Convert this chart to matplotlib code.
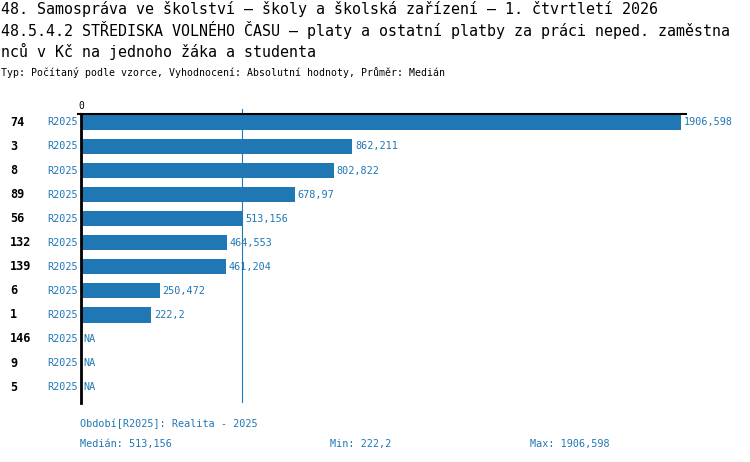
import numpy as np
import matplotlib
matplotlib.use("Agg")
import matplotlib.pyplot as plt

# data
categories = ["74", "3", "8", "89", "56", "132", "139", "6", "1", "146", "9", "5"]
period = "R2025"
values = [1906.598, 862.211, 802.822, 678.97, 513.156, 464.553, 461.204,
          250.472, 222.2, np.nan, np.nan, np.nan]
median_val = 513.156
min_val = 222.2
max_val = 1906.598

title_lines = [
    "48. Samospráva ve školství – školy a školská zařízení – 1. čtvrtletí 2026",
    "48.5.4.2 STŘEDISKA VOLNÉHO ČASU – platy a ostatní platby za práci neped. zaměstna",
    "nců v Kč na jednoho žáka a studenta",
]
subtitle = "Typ: Počítaný podle vzorce, Vyhodnocení: Absolutní hodnoty, Průměr: Medián"
legend_text = "Období[R2025]: Realita - 2025"

BLUE = "#1f77b4"
MONO = "DejaVu Sans Mono"
W, H = 750, 462


def fmt(v):
    s = f"{v:.3f}".rstrip("0").rstrip(".")
    return s.replace(".", ",")


fig = plt.figure(figsize=(7.5, 4.62), dpi=100)

# axes placed in pixel coordinates
left_px, right_px, top_px, bot_px = 81, 686, 114, 403
ax = fig.add_axes([left_px / W, 1 - bot_px / H, (right_px - left_px) / W, (bot_px - top_px) / H])
scale = max_val / (681 - left_px)
ax.set_xlim(0, (right_px - left_px) * scale)
ax.set_ylim(11.66, -0.35)

y = np.arange(len(categories))
vals = np.array(values, dtype=float)
ax.barh(y, np.nan_to_num(vals), height=0.63, color=BLUE, zorder=2)

for i, v in enumerate(vals):
    txt = "NA" if np.isnan(v) else fmt(v)
    x = 0 if np.isnan(v) else v
    ax.annotate(txt, (x, i), xytext=(2, 0), textcoords="offset points",
                va="center", ha="left", color=BLUE, fontsize=7.3, family=MONO)
    ax.annotate(period, (0, i), xytext=(-2, 0), textcoords="offset points",
                va="center", ha="right", color=BLUE, fontsize=7.3, family=MONO)
    ax.text(10 / W, 1 - (top_px + (i + 0.35) * (bot_px - top_px) / 12.01) / H, categories[i],
            transform=fig.transFigure, va="center", ha="left",
            fontsize=8.5, fontweight="bold", family=MONO)

# median line
ax.axvline(median_val, color=BLUE, lw=0.8, zorder=1)
ax.plot([median_val, median_val], [-0.35, -0.55], color=BLUE, lw=0.8, clip_on=False)

for s in ["right", "bottom"]:
    ax.spines[s].set_visible(False)
ax.spines["left"].set_linewidth(2)
ax.spines["top"].set_linewidth(1.5)
ax.set_xticks([0])
ax.set_xticklabels(["0"], fontsize=7, family=MONO)
ax.xaxis.tick_top()
ax.tick_params(axis="x", length=0, pad=2)
ax.set_yticks([])
ax.plot([0, -3 * scale], [-0.35, -0.35], color="black", lw=1.5, clip_on=False)

# titles
for k, line in enumerate(title_lines):
    fig.text(1 / W, 1 - (9 + 21 * k) / H, line, fontsize=10.8, family=MONO, va="center", ha="left")
fig.text(1 / W, 1 - 73 / H, subtitle, fontsize=7.1, family=MONO, va="center", ha="left")

# footer
fig.text(80 / W, 1 - 424 / H, legend_text, fontsize=7.3, family=MONO, color=BLUE, va="center")
fig.text(80 / W, 1 - 444 / H, "Medián: " + fmt(median_val), fontsize=7.3, family=MONO, color=BLUE, va="center")
fig.text(330 / W, 1 - 444 / H, "Min: " + fmt(min_val), fontsize=7.3, family=MONO, color=BLUE, va="center")
fig.text(530 / W, 1 - 444 / H, "Max: " + fmt(max_val), fontsize=7.3, family=MONO, color=BLUE, va="center")

fig.savefig("out.png", dpi=100)
